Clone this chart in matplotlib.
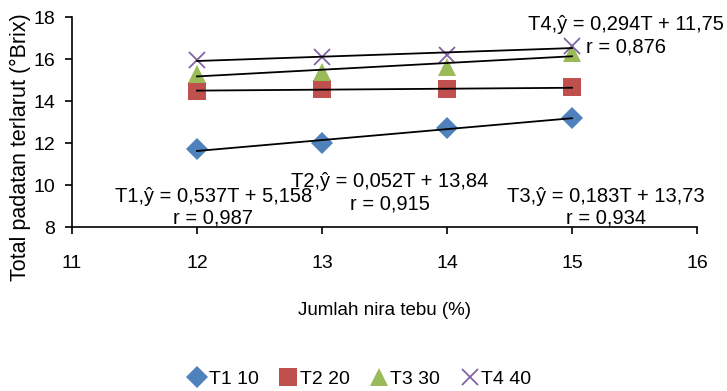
import matplotlib
matplotlib.use('Agg')
import matplotlib.pyplot as plt
import numpy as np

plt.rcParams['font.family'] = ['Liberation Sans Narrow', 'Liberation Sans', 'DejaVu Sans']

nira = [12, 13, 14, 15]
t1 = [11.7, 12.0, 12.7, 13.2]
t2 = [14.5, 14.55, 14.55, 14.65]
t3 = [15.3, 15.4, 15.6, 16.3]
t4 = [15.95, 16.1, 16.2, 16.6]
labels = ['T1 10', 'T2 20', 'T3 30', 'T4 40']
persamaan = ['T1,ŷ = 0,537T + 5,158\nr = 0,987',
             'T2,ŷ = 0,052T + 13,84\nr = 0,915',
             'T3,ŷ = 0,183T + 13,73\nr = 0,934',
             'T4,ŷ = 0,294T + 11,75\nr = 0,876']

fig = plt.figure(figsize=(7.27, 3.91), dpi=100)
ax = fig.add_axes([72/727, 1-227/391, 625/727, 210/391])

gaya = [('D', '#4F81BD', 11), ('s', '#C0504D', 12.5), ('^', '#9BBB59', 12.5), ('x', '#8064A2', 12)]
x = np.array(nira)
for y, lab, (m, c, ms) in zip([t1, t2, t3, t4], labels, gaya):
    ax.plot(x, y, linestyle='none', marker=m, color=c, markersize=ms,
            markeredgewidth=1.3 if m == 'x' else 0, label=lab, clip_on=False)
    k, b = np.polyfit(x, y, 1)
    ax.plot(x, k*x + b, color='black', lw=1.3, zorder=3)

# label persamaan garis
pos = [(12.13, 8.95), (13.54, 9.62), (15.27, 8.95), (15.43, 17.1)]
for (px, py), s in zip(pos, persamaan):
    ax.text(px, py, s, ha='center', va='center', fontsize=14.5, linespacing=1.2,
            multialignment='center', zorder=5, clip_on=False)

ax.set_xlim(11, 16)
ax.set_ylim(8, 18)
ax.set_xticks([11, 12, 13, 14, 15, 16])
ax.set_yticks([8, 10, 12, 14, 16, 18])
ax.spines['top'].set_visible(False)
ax.spines['right'].set_visible(False)
ax.spines['left'].set_linewidth(1.2)
ax.spines['bottom'].set_linewidth(1.2)
ax.tick_params(labelsize=14, length=5, width=1.2, direction='out')
ax.tick_params(axis='x', pad=15)
ax.tick_params(axis='y', pad=7)
ax.set_xlabel('Jumlah nira tebu (%)', fontsize=13.5, labelpad=22)
ax.set_ylabel('Total padatan terlarut (°Brix)', fontsize=15.5)
ax.yaxis.set_label_coords(-0.066, 0.38)
ax.legend(loc='center', bbox_to_anchor=(0.46, -0.725), ncol=4, frameon=False,
          fontsize=14, handletextpad=0.1, columnspacing=1.0, handlelength=1)

fig.savefig('out.png', dpi=100)
